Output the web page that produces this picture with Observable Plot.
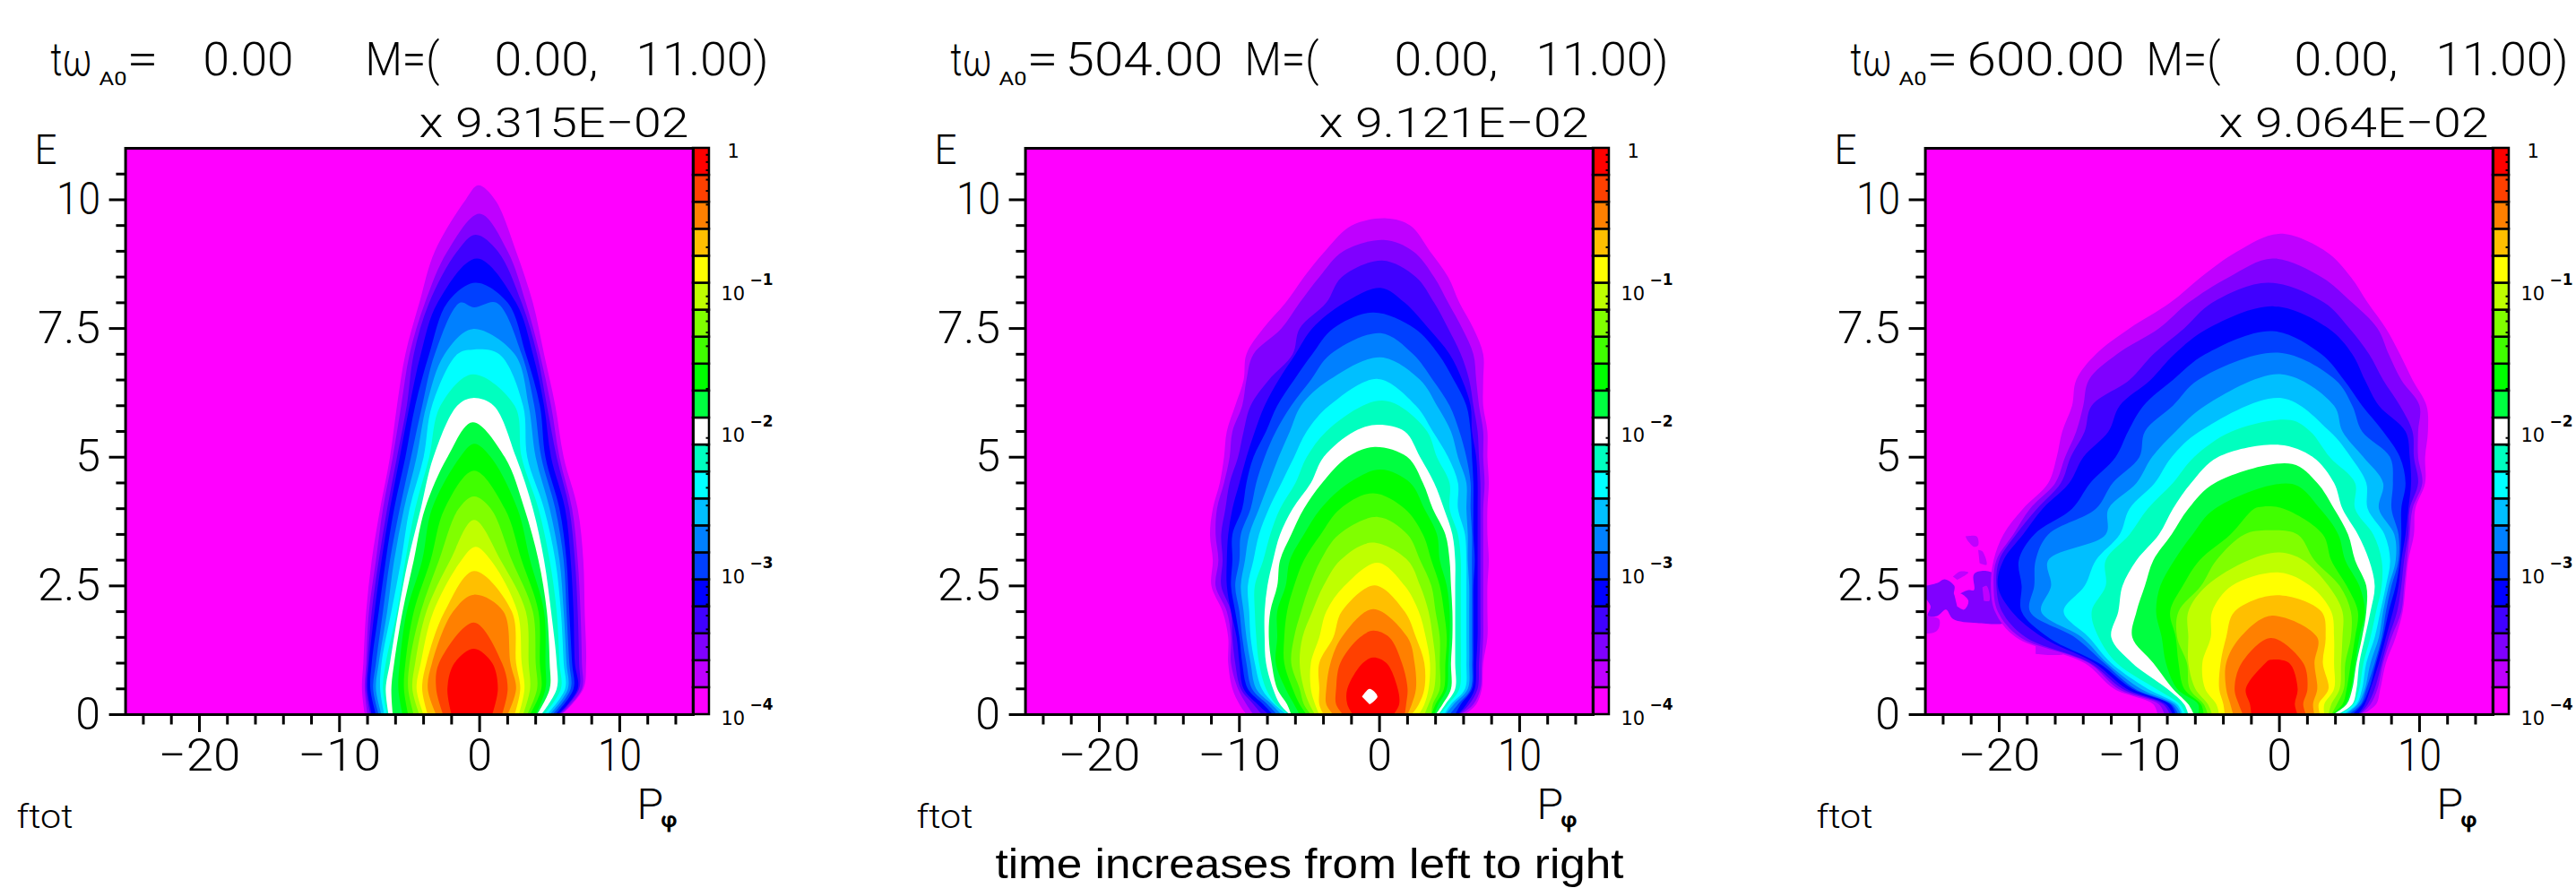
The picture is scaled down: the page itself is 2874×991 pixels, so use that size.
<!DOCTYPE html>
<html>
<head>
<meta charset="utf-8">
<script src="https://cdn.jsdelivr.net/npm/d3@7"></script>
<script src="https://cdn.jsdelivr.net/npm/@observablehq/plot@0.6"></script>
<style>
html,body{margin:0;padding:0;background:#fff;overflow:hidden}
#page{position:relative;width:2874px;height:991px;overflow:hidden}
#page svg{position:absolute;top:0}
#caption{position:absolute;left:1061px;top:938px;width:800px;text-align:center;font:400 46px/52px "Liberation Sans",sans-serif;color:#000;white-space:nowrap;transform:scaleX(1.115);transform-origin:center}
</style>
</head>
<body>
<div id="page"></div>
<script>
// Colour bands of the distribution, lowest contour first
const bandColors = ["#bf00ff","#8000ff","#4000ff","#0000ff","#0040ff","#0080ff","#00bfff","#00ffff","#00ffbf","#ffffff",
  "#00ff40","#00ff00","#40ff00","#80ff00","#bfff00","#ffff00","#ffbf00","#ff8000","#ff4000","#ff0000"];
const backgroundColor = "#ff00ff";

// Energy rows at which the contour edges were read
const rowsT0 = [0,0.5,1,2,3,4,5,6,7,8,9,10];
const rowsT504 = [0,0.2,0.5,1,1.5,2,2.5,3,3.5,4,4.5,5,5.5,6,6.5,7,7.5,8,8.5,9,9.5];
const rowsT600 = [0,0.2,0.5,1,1.5,2,2.5,3,3.5,4,4.5,5,5.5,6,6.5,7,7.5,8,8.5,9];

// Each contour: [apex Pφ, apex E, left-edge Pφ per row, right-edge Pφ per row]
const contoursT0 = [
[-0.1,10.28,[-8.2,-8.4,-8.3,-8.1,-7.7,-7.1,-6.4,-5.9,-5.3,-4.3,-3.2,-1.0],[5.9,7.4,7.6,7.5,7.4,7.0,6.0,5.4,4.6,3.8,2.6,1.1]],
[0,9.73,[-8.0,-8.2,-8.1,-7.9,-7.4,-6.9,-6.2,-5.6,-5.0,-3.9,-2.3],[5.8,7.3,7.3,7.2,7.0,6.6,5.7,5.1,4.3,3.3,2.0]],
[-0.3,9.32,[-7.8,-8.1,-8.0,-7.7,-7.2,-6.6,-5.9,-5.2,-4.7,-3.6,-1.6],[5.7,7.1,7.1,7.0,6.8,6.4,5.5,4.8,4.1,3.0,1.3]],
[-0.2,8.86,[-7.7,-8.0,-7.9,-7.5,-7.0,-6.4,-5.7,-5.0,-4.2,-3.0],[5.6,7.0,6.8,6.7,6.5,6.1,5.1,4.6,3.8,2.6]],
[-0.3,8.39,[-7.4,-7.8,-7.7,-7.2,-6.7,-6.1,-5.3,-4.6,-3.6,-2.3],[5.4,6.7,6.6,6.4,6.2,5.7,4.7,4.3,3.3,2.0]],
[-0.4,7.91,[-7.2,-7.6,-7.4,-6.9,-6.4,-5.7,-4.9,-4.1,-3.2,-1.4],[5.2,6.5,6.4,6.2,6.0,5.4,4.4,3.9,3.0,1.2]],
[-0.5,7.49,[-7.0,-7.4,-7.2,-6.6,-6.1,-5.4,-4.5,-3.8,-2.5],[5.0,6.3,6.2,6.0,5.7,5.0,4.0,3.5,2.5]],
[-0.5,7.09,[-6.8,-7.1,-7.0,-6.3,-5.6,-5.0,-4.0,-3.4,-1.6],[4.8,6.1,6.0,5.8,5.4,4.6,3.4,3.1,1.4]],
[-0.5,6.61,[-6.6,-6.9,-6.7,-5.9,-5.3,-4.6,-3.6,-2.8],[4.6,5.8,5.7,5.5,5.0,4.2,3.0,2.5]],
[-0.5,6.15,[-6.5,-6.7,-6.4,-5.8,-5.1,-4.2,-3.3,-1.6],[4.4,5.5,5.5,5.1,4.6,3.8,2.6,1.0]],
[-0.5,5.68,[-6.2,-6.3,-6.1,-5.5,-4.7,-3.9,-2.3],[4.1,5.0,5.0,4.8,4.2,3.2,1.8]],
[-0.4,5.26,[-5.5,-5.8,-5.7,-5.2,-4.1,-3.4,-1.4],[4.0,4.7,4.7,4.6,3.6,2.7,0.8]],
[-0.4,4.74,[-5.1,-5.4,-5.3,-4.7,-3.5,-2.5],[3.6,4.4,4.3,4.2,3.0,1.8]],
[-0.4,4.24,[-4.7,-5.1,-5.0,-4.2,-2.9,-1.5],[3.4,4.1,4.0,3.8,2.3,0.8]],
[-0.4,3.78,[-4.3,-4.8,-4.6,-3.8,-2.1],[3.1,3.6,3.5,3.3,1.5]],
[-0.3,3.26,[-4.0,-4.5,-4.2,-3.3,-1.3],[2.8,3.2,3.0,2.7,0.8]],
[-0.4,2.79,[-3.7,-4.1,-3.8,-2.5],[2.5,2.9,2.6,2.3]],
[-0.4,2.33,[-3.1,-3.7,-3.4,-1.9],[2.0,2.6,2.2,1.7]],
[-0.4,1.79,[-2.6,-3.1,-2.9],[1.6,2.0,1.6]],
[-0.4,1.28,[-2.0,-2.3,-1.8],[0.9,1.3,0.9]]
];

const contoursT504 = [
[0.51,9.64,[-9.5,-10.0,-10.5,-10.8,-10.8,-11.2,-12.0,-11.9,-12.1,-11.9,-11.4,-11.1,-10.9,-10.3,-9.7,-9.5,-8.3,-6.7,-5.4,-3.9,-2.0],[6.1,6.9,7.3,7.4,7.7,7.7,7.7,7.8,7.7,7.7,7.8,7.7,7.7,7.4,7.4,7.4,6.7,5.7,4.9,3.6,2.2]],
[0.30,9.22,[-9.0,-9.5,-10.1,-10.6,-10.6,-10.9,-11.7,-11.5,-11.7,-11.6,-11.1,-10.7,-10.5,-9.8,-9.5,-9.0,-7.0,-5.7,-4.3,-2.6],[5.8,6.7,7.2,7.3,7.4,7.4,7.4,7.4,7.4,7.4,7.5,7.4,7.4,7.1,6.9,6.7,5.9,4.9,3.9,2.4]],
[0.19,8.82,[-8.4,-9.0,-9.9,-10.3,-10.5,-10.6,-11.3,-11.2,-11.3,-11.0,-10.7,-10.1,-9.7,-9.2,-7.9,-6.2,-5.7,-3.8,-2.7],[5.7,6.4,7.0,7.1,7.2,7.2,7.2,7.2,7.2,7.2,7.2,7.1,7.0,6.7,6.4,5.8,4.9,3.9,2.6]],
[0.08,8.29,[-7.9,-8.7,-9.7,-10.0,-10.2,-10.6,-10.9,-10.9,-10.8,-10.5,-10.0,-9.5,-8.9,-8.2,-7.2,-6.0,-4.8,-2.5],[5.6,6.2,6.8,6.9,7.0,7.0,7.0,7.0,7.0,7.0,7.0,6.9,6.6,6.5,5.9,5.0,3.5,1.8]],
[-0.45,7.81,[-7.6,-8.3,-9.4,-9.8,-10.0,-10.3,-10.6,-10.5,-10.5,-9.8,-9.5,-9.0,-8.1,-7.3,-6.1,-4.8,-3.3],[5.4,5.8,6.6,6.7,6.7,6.7,6.7,6.8,6.7,6.7,6.7,6.6,6.5,6.2,5.3,4.2,2.5]],
[0.08,7.41,[-7.3,-8.0,-9.1,-9.5,-9.8,-10.0,-10.3,-10.0,-9.9,-9.2,-8.8,-8.2,-7.4,-6.3,-4.9,-3.5],[5.0,5.6,6.5,6.6,6.6,6.6,6.6,6.6,6.6,6.5,6.5,6.2,5.7,5.0,3.8,2.4]],
[0.08,6.94,[-7.0,-7.7,-8.8,-9.2,-9.5,-9.7,-9.9,-9.6,-9.3,-8.6,-7.9,-7.2,-6.4,-5.6,-3.6],[4.7,5.3,6.3,6.4,6.4,6.4,6.4,6.3,6.3,6.2,6.2,5.6,5.1,4.1,2.9]],
[-0.13,6.52,[-6.6,-7.5,-8.4,-8.9,-9.2,-9.3,-9.4,-9.0,-8.6,-7.9,-7.0,-6.1,-5.2,-3.6],[4.6,5.1,6.1,6.2,6.2,6.2,6.2,6.2,6.1,5.6,5.6,4.9,3.8,2.6]],
[0.19,6.10,[-6.5,-7.4,-8.1,-8.6,-8.8,-8.9,-8.9,-8.3,-7.8,-7.1,-6.0,-5.2,-3.8,-1.2],[4.3,4.9,5.7,5.8,5.8,5.8,5.8,5.8,5.6,5.0,5.0,4.1,3.4,1.4]],
[-0.13,5.63,[-6.4,-7.1,-7.6,-8.1,-8.2,-8.2,-8.0,-7.6,-7.1,-6.2,-4.9,-4.0,-1.8],[4.2,4.7,5.4,5.4,5.4,5.4,5.4,5.4,5.2,4.6,3.9,2.9,1.8]],
[-0.34,5.20,[-6.3,-6.6,-7.3,-7.7,-7.9,-7.8,-7.3,-7.1,-6.3,-5.4,-4.1,-2.3],[4.0,4.5,5.1,5.1,5.2,5.2,5.1,5.0,4.7,3.8,3.1,2.0]],
[0.08,4.76,[-5.7,-6.1,-6.7,-7.4,-7.3,-7.3,-6.7,-6.4,-5.4,-4.2,-2.2],[3.9,4.2,4.8,4.9,5.0,5.0,4.8,4.3,4.1,3.2,2.2]],
[-0.45,4.30,[-5.2,-5.7,-6.2,-6.8,-6.8,-6.6,-6.1,-5.4,-4.2,-2.8],[3.7,4.0,4.6,4.7,4.8,4.6,4.3,3.7,3.1,1.8]],
[-0.13,3.84,[-4.9,-5.4,-5.7,-6.3,-6.1,-5.6,-5.0,-4.2,-2.9],[3.7,3.8,4.3,4.3,4.3,4.0,3.7,2.9,2.0]],
[-0.56,3.34,[-4.6,-5.0,-5.4,-5.7,-5.5,-4.8,-4.0,-2.8],[3.2,3.5,3.9,4.0,3.8,3.5,2.9,2.0]],
[-0.13,2.95,[-4.3,-4.6,-4.9,-4.9,-4.3,-3.8,-2.5],[2.8,3.2,3.5,3.6,3.3,2.8,1.8]],
[-0.34,2.51,[-4.0,-4.3,-4.3,-4.3,-3.3,-2.7],[2.3,2.8,3.2,3.2,2.6,1.8]],
[-0.45,2.05,[-3.3,-3.8,-3.8,-3.5,-2.7],[2.0,2.3,2.6,2.5,2.0]],
[-0.45,1.63,[-2.6,-3.1,-3.1,-2.8,-1.4],[1.8,1.9,2.0,1.6,0.7]],
[-0.45,1.11,[-1.9,-2.3,-2.3,-1.2],[1.0,1.4,1.3,0.5]]
];

const contoursT600 = [
[0,9.34,[-8.7,-9.0,-11.8,-13.9,-18.8,-20.3,-20.6,-20.4,-19.7,-18.3,-16.5,-15.9,-15.5,-14.8,-14.5,-13.1,-10.7,-7.8,-5.6,-3.0],[5.9,6.9,7.2,7.6,8.3,8.8,9.0,9.2,9.6,9.7,10.4,10.4,10.6,10.5,9.5,8.6,7.6,6.3,5.1,3.3]],
[-0.5,8.86,[-8.2,-8.6,-11.5,-13.6,-18.5,-20.1,-20.4,-20.2,-19.0,-17.8,-16.0,-15.3,-14.5,-14.0,-13.6,-11.6,-8.6,-6.5,-3.6],[5.8,6.5,7.0,7.4,8.0,8.7,8.9,9.1,9.3,9.5,10.2,9.9,9.9,10.0,8.7,7.8,7.0,5.2,3.0]],
[-0.8,8.39,[-7.8,-8.3,-11.2,-13.5,-18.1,-19.8,-20.2,-20.0,-18.8,-17.3,-15.6,-14.9,-13.9,-13.4,-10.7,-9.0,-6.8,-4.8],[5.7,6.3,6.8,7.3,7.8,8.4,8.7,8.9,9.2,9.3,9.9,9.6,9.5,8.6,7.4,6.4,5.0,3.2]],
[-0.4,7.93,[-7.6,-8.1,-10.9,-13.2,-16.9,-19.1,-20.1,-19.7,-18.3,-16.9,-15.0,-14.0,-12.2,-11.4,-9.2,-7.5,-5.1],[5.6,6.1,6.5,7.1,7.6,8.1,8.5,8.7,9.0,9.2,9.4,9.3,9.0,7.1,6.1,5.2,3.5]],
[-0.5,7.45,[-7.4,-7.8,-10.5,-12.9,-16.5,-18.4,-18.4,-18.6,-17.5,-14.8,-13.5,-11.7,-10.8,-9.7,-7.6,-5.3],[5.2,5.9,6.4,6.9,7.4,7.8,8.3,8.6,8.7,8.7,9.0,8.6,7.4,5.9,4.6,3.0]],
[-0.1,7.03,[-7.2,-7.7,-10.3,-12.5,-14.6,-17.8,-17.5,-17.4,-16.5,-13.1,-11.9,-10.0,-9.6,-7.6,-5.8],[4.9,5.8,6.2,6.8,7.3,7.6,8.0,8.5,8.5,8.0,8.1,7.9,5.9,5.2,4.0]],
[0.15,6.61,[-7.0,-7.5,-9.9,-12.3,-14.1,-17.0,-16.3,-16.5,-12.4,-12.2,-10.2,-9.1,-7.4,-5.3],[4.7,5.6,6.1,6.5,7.1,7.4,7.8,8.3,8.2,7.1,7.4,6.0,4.5,3.9]],
[0.15,6.15,[-6.9,-7.3,-9.4,-12.0,-13.6,-15.4,-13.9,-13.1,-11.4,-10.7,-8.9,-7.7,-5.7],[4.5,5.5,5.9,6.2,6.8,7.2,7.6,7.9,7.5,6.3,6.2,5.1,3.6]],
[0.8,5.72,[-6.7,-7.1,-8.8,-11.6,-12.9,-13.4,-12.4,-12.4,-10.7,-9.4,-7.6,-6.1,-3.4],[4.3,5.3,5.7,6.0,6.5,6.9,7.3,7.3,6.7,5.4,5.4,3.6,2.2]],
[0,5.24,[-6.5,-6.8,-8.0,-10.5,-12.0,-11.5,-11.2,-10.2,-8.6,-7.6,-6.3,-4.4],[4.1,5.2,5.5,5.7,6.1,6.5,6.8,6.4,5.6,4.5,3.9,2.4]],
[0.9,4.87,[-6.1,-6.5,-7.6,-9.0,-10.5,-10.2,-9.6,-9.0,-7.7,-6.5,-4.6],[3.8,4.8,5.2,5.5,5.9,6.2,6.2,5.4,4.9,3.9,2.7]],
[0.9,4.48,[-5.8,-5.8,-7.3,-8.1,-8.4,-8.8,-8.5,-7.5,-6.2,-4.6],[3.8,4.7,5.1,5.4,5.7,6.1,5.7,4.7,4.2,2.9]],
[-1.2,4.04,[-5.4,-5.6,-6.8,-7.2,-7.4,-7.8,-6.9,-5.7,-3.5,-1.8],[3.7,4.5,4.8,5.1,5.4,5.6,4.8,3.7,3.1,0.3]],
[-0.8,3.58,[-5.1,-5.4,-6.4,-6.6,-7.3,-7.2,-5.6,-4.5,-2.5],[3.7,4.1,4.6,4.7,5.1,5.1,4.3,2.5,1.3]],
[0,3.15,[-4.8,-5.1,-6.0,-6.5,-6.5,-6.5,-5.2,-2.2],[3.5,3.7,4.3,4.4,4.5,4.5,3.5,1.7]],
[0,2.76,[-4.3,-4.5,-5.3,-5.5,-4.9,-4.8,-3.4],[3.2,3.2,3.9,3.9,3.9,3.7,2.2]],
[-0.2,2.32,[-3.9,-4.0,-4.3,-4.2,-3.8,-3.2],[2.9,2.8,3.5,3.1,3.3,3.0]],
[-0.6,1.92,[-3.3,-3.5,-3.8,-3.8,-2.8],[2.5,2.4,2.7,2.5,2.7]],
[-0.6,1.49,[-2.6,-2.9,-3.2,-2.7],[1.9,1.7,2.0,1.7]],
[-0.7,1.06,[-2.0,-2.1,-2.4,-1.0],[1.3,1.1,1.3,0.7]]
];

// Small closed features: [colour, [Pφ, E] ...]; painted under the contours
const featuresT600 = [
["#8000ff",[-25.3,2.5],[-24.4,2.56],[-23.9,2.63],[-23.2,2.5],[-23.2,2.33],[-22.2,2.42],[-21.8,2.42],[-21.8,2.73],[-20.9,2.79],[-20.1,2.68],[-19.9,2.44],[-20.1,2.1],[-19.5,1.8],[-21.6,1.78],[-23.3,1.86],[-23.8,2.04],[-24.4,1.92],[-25.1,1.92],[-24.9,2.1],[-25.3,2.27]],
["#ff00ff",[-23.2,2.33],[-22.8,2.36],[-22.2,2.21],[-22.5,2.04],[-23.0,2.1]],
["#bf00ff",[-21.2,2.47],[-20.9,2.5],[-20.7,2.21],[-21.1,2.21]],
["#bf00ff",[-22.4,3.46],[-21.6,3.46],[-21.5,3.29],[-21.8,3.26],[-22.3,3.4]],
["#bf00ff",[-21.5,3.2],[-21.2,3.17],[-20.9,2.91],[-21.4,2.94]],
["#bf00ff",[-23.3,2.68],[-22.8,2.78],[-22.2,2.76],[-23.0,2.62]],
["#bf00ff",[-25.3,1.92],[-24.3,1.86],[-24.3,1.69],[-24.6,1.6],[-25.3,1.57]],
["#bf00ff",[-17.4,1.4],[-15.4,1.28],[-15.4,1.18],[-17.4,1.18]]
];
const peakT504 = [[-1.25,0.35],[-0.71,0.5],[-0.15,0.35],[-0.71,0.2]];

// Axis ticks
const xMajor = [-20,-10,0,10];
const xMinor = [-24,-22,-18,-16,-14,-12,-8,-6,-4,-2,2,4,6,8,12,14];
const yMajor = [0,2.5,5,7.5,10];
const yMinor = [0.5,1,1.5,2,3,3.5,4,4.5,5.5,6,6.5,7,8,8.5,9,9.5,10.5];

// Colour bar
const barColors = [backgroundColor, ...bandColors];
const barDecades = [-1,-2,-3,-4];
const barMinor = [-3.699,-3.523,-3.398,-3.301,-3.222,-3.155,-3.097,-3.046,-2.699,-2.523,-2.398,-2.301,-2.222,-2.155,-2.097,-2.046,-1.699,-1.523,-1.398,-1.301,-1.222,-1.155,-1.097,-1.046,-0.699,-0.523,-0.398,-0.301,-0.222,-0.155,-0.097,-0.046];

// Per-panel labels
const timeLabels = ["0.00","504.00","600.00"];
const scaleLabels = ["x 9.315E−02","x 9.121E−02","x 9.064E−02"];
const xDomain = [-25.27,15.25], yDomain = [0,11];
const barP1 = 15.25, barP2 = 16.4;

const W = 866, H = 991, fL = 139.6, fR = 773, fT = 165, fB = 797;
const FONT = "Roboto";
const logToE = v => yDomain[1]*(v+4)/4;

// Drawn widths of the stretched vector-font labels
const textWidths = new Map([
  ["tω",46],["A0",31],["=",35],["0.00",101],["504.00",176],["600.00",176],["M=(",83],["0.00,",116],["11.00)",148],
  ["x 9.315E−02",301],["x 9.121E−02",301],["x 9.064E−02",301],["ftot",63],["E",25],
  ["−20",92],["−10",93],["10",49],["7.5",70],["2.5",70]
]);

function polygons(rows, contours, features){
  const out = []; let id = 0;
  (features||[]).forEach(([color,...pts])=>{ pts.forEach(([p,e])=>out.push({id,color,p,e})); id++; });
  contours.forEach(([ap,ae,left,right],i)=>{
    const color = bandColors[i];
    left.forEach((p,j)=>out.push({id,color,p,e:rows[j]}));
    out.push({id,color,p:ap,e:ae});
    for(let j=right.length-1;j>=0;j--) out.push({id,color,p:right[j],e:rows[j]});
    id++;
  });
  return out;
}
const label = (t,px,base,size,anchor="start",extra={}) => Plot.text([t],{
  frameAnchor:"top-left",dx:px-fL,dy:base-fT,lineAnchor:"bottom",textAnchor:anchor,
  fontSize:size,fontFamily:FONT,fontWeight:300,fill:"#000",...extra});

function panel(idx, rows, contours, features, peak, timeX, mX){
  let polys = polygons(rows, contours, features);
  if(peak) polys = polys.concat(peak.map(([p,e])=>({id:999,color:"#ffffff",p,e})));
  const bins = barColors.map((c,i)=>({c,i}));
  const svg = Plot.plot({
    width:W,height:H,marginLeft:fL,marginRight:W-fR,marginTop:fT,marginBottom:H-fB,
    style:{overflow:"visible",background:"transparent"},
    x:{domain:xDomain},y:{domain:yDomain},
    marks:[
      Plot.frame({fill:backgroundColor,stroke:"none"}),
      Plot.line(polys,{x:"p",y:"e",z:"id",fill:"color",stroke:"none",curve:"catmull-rom",clip:true}),
      Plot.ruleX(xMinor,{y1:()=>0,y2:()=>-0.2,stroke:"#000",strokeWidth:3}),
      Plot.axisX({ticks:xMajor,tickSize:20,tickPadding:7,label:null,strokeWidth:3,stroke:"#000",fontSize:50,fontFamily:FONT,fontWeight:300,fill:"#000",lineAnchor:"top"}),
      Plot.ruleY(yMinor,{x1:()=>xDomain[0],x2:()=>xDomain[0]-0.65,stroke:"#000",strokeWidth:3}),
      Plot.axisY({ticks:yMajor,tickSize:18,tickPadding:10,tickFormat:d=>String(d),label:null,strokeWidth:3,stroke:"#000",fontSize:50,fontFamily:FONT,fontWeight:300,fill:"#000"}),
      Plot.rect(bins,{x1:()=>barP1,x2:()=>barP2,y1:d=>yDomain[1]*d.i/21,y2:d=>yDomain[1]*(d.i+1)/21,fill:"c",stroke:"#000",strokeWidth:2.5}),
      Plot.ruleY(barMinor,{y:logToE,x1:()=>barP2-0.22,x2:()=>barP2,stroke:"#000",strokeWidth:2}),
      Plot.text(barDecades,{x:()=>barP2,y:logToE,text:()=>"10",textAnchor:"start",lineAnchor:"bottom",dx:13,dy:11,fontSize:21,fontFamily:"DejaVu Sans",fill:"#000"}),
      Plot.text(barDecades,{x:()=>barP2,y:logToE,text:d=>"−"+(-d),textAnchor:"start",lineAnchor:"bottom",dx:45,dy:-6,fontSize:17,fontFamily:"DejaVu Sans",fontWeight:"bold",fill:"#000"}),
      Plot.text(["1"],{x:()=>barP2,y:()=>yDomain[1],textAnchor:"start",lineAnchor:"bottom",dx:20,dy:10,fontSize:21,fontFamily:"DejaVu Sans",fill:"#000"}),
      Plot.frame({stroke:"#000",strokeWidth:3}),
      // title
      label("tω",56,83,52),
      label("A0",110,94,20,"start",{fontWeight:400}),
      label("=",141,83,52),
      label(timeLabels[idx],timeX,83,52),
      label("M=(",mX,83,52),
      label("0.00,",551,83,52),
      label("11.00)",709,83,52),
      label(scaleLabels[idx],768,152,46,"end"),
      label("E",38,182,46),
      label("P",710,913,48),
      label("φ",737,922,24,"start",{fontWeight:700}),
      label("ftot",18,923,36)
    ]
  });
  // Stretch the large labels to the reference's drawn widths (colour-bar labels stay natural)
  svg.querySelectorAll("text").forEach(t=>{
    const s = t.textContent;
    const size = parseFloat(t.getAttribute("font-size") || (t.parentNode && t.parentNode.getAttribute && t.parentNode.getAttribute("font-size")) || 0);
    if(textWidths.has(s) && (size > 21 || s === "A0")){
      t.setAttribute("textLength", textWidths.get(s));
      t.setAttribute("lengthAdjust","spacingAndGlyphs");
    }
  });
  return svg;
}

const page = document.getElementById("page");
[
  panel(0,rowsT0,contoursT0,null,null,226,407),
  panel(1,rowsT504,contoursT504,null,peakT504,184,384),
  panel(2,rowsT600,contoursT600,featuresT600,null,186,386)
].forEach((svg,i)=>{ svg.style.left=(i*1004)+"px"; page.appendChild(svg); });

const cap = document.createElement("div");
cap.id="caption"; cap.textContent="time increases from left to right";
page.appendChild(cap);
</script>
</body>
</html>
